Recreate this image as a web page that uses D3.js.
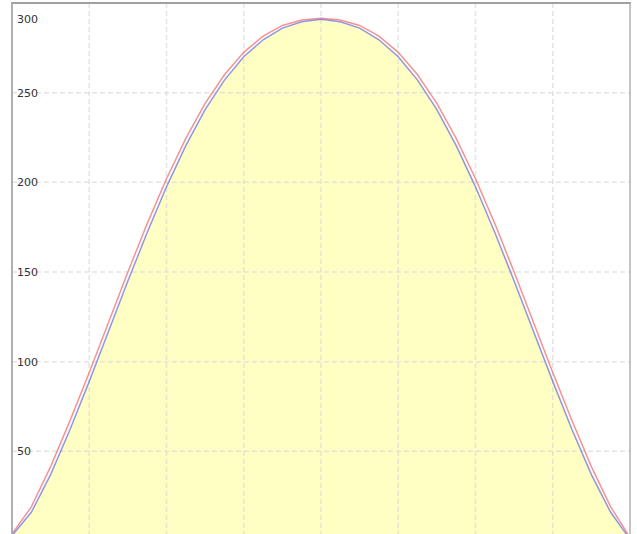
<!DOCTYPE html>
<html>
<head>
<meta charset="utf-8">
<script src="https://cdn.jsdelivr.net/npm/d3@7"></script>
<style>
  body { margin: 0; background: #fff; }
  .tick text { font-family: "DejaVu Sans", sans-serif; font-size: 11px; fill: #333; }
</style>
</head>
<body>
<div id="chart"></div>
<script>
// posiciones en x (unidades de la rejilla)
const xValues = [0, 0.25, 0.5, 0.75, 1, 1.25, 1.5, 1.75, 2, 2.25, 2.5, 2.75, 3, 3.25, 3.5, 3.75,
  4, 4.25, 4.5, 4.75, 5, 5.25, 5.5, 5.75, 6, 6.25, 6.5, 6.75, 7, 7.25, 7.5, 7.75, 8];

// serie azul (con relleno amarillo)
const blueValues = [3, 16, 37, 62, 89, 117, 145, 172, 197.5, 220.5, 240.5, 257, 270, 279.5, 286, 289.5,
  291, 289.5, 286, 279.5, 270, 257, 240.5, 220.5, 197.5, 172, 145, 117, 89, 62, 37, 16, 1];

// serie roja (un poco por fuera de la azul)
const redValues = [4, 19, 41.5, 67, 94, 122, 150, 177, 202, 224.5, 244, 260, 272.5, 281.5, 287.5, 290.5,
  291.5, 290.5, 287.5, 281.5, 272.5, 260, 244, 224.5, 202, 177, 150, 122, 94, 67, 41.5, 19, 2];

const yTicks = [50, 100, 150, 200, 250, 300];
const xGrid = [1, 2, 3, 4, 5, 6, 7];

const width = 637;
const height = 534;
const marginLeft = 12, marginRight = 630, marginTop = 3, plotBottom = 541;

const svg = d3.select('#chart')
  .append('svg')
  .attr('width', width)
  .attr('height', height);

const x = d3.scaleLinear().domain([0, 8]).range([marginLeft, marginRight]);
const y = d3.scaleLinear().domain([0, 300]).range([plotBottom, marginTop]);

const blue = xValues.map((d, i) => ({ x: d, v: blueValues[i] }));
const red = xValues.map((d, i) => ({ x: d, v: redValues[i] }));

// relleno bajo la serie azul
const area = d3.area()
  .x(d => x(d.x))
  .y0(y(0))
  .y1(d => y(d.v));

svg.append('path')
  .attr('d', area(blue))
  .attr('fill', '#ffffc4');

// rejilla
svg.append('g')
  .selectAll('line')
  .data(yTicks)
  .enter()
  .append('line')
  .attr('x1', marginLeft).attr('x2', marginRight)
  .attr('y1', d => y(d)).attr('y2', d => y(d))
  .attr('stroke', '#d8d8d8')
  .attr('stroke-opacity', 0.7)
  .attr('stroke-width', 1.5)
  .attr('stroke-dasharray', '5,3');

svg.append('g')
  .selectAll('line')
  .data(xGrid)
  .enter()
  .append('line')
  .attr('x1', d => x(d)).attr('x2', d => x(d))
  .attr('y1', marginTop).attr('y2', height)
  .attr('stroke', '#d8d8d8')
  .attr('stroke-opacity', 0.7)
  .attr('stroke-width', 1.5)
  .attr('stroke-dasharray', '5,3');

const line = d3.line()
  .x(d => x(d.x))
  .y(d => y(d.v));

svg.append('path')
  .attr('d', line(red))
  .attr('fill', 'none')
  .attr('stroke', '#f07878')
  .attr('stroke-opacity', 0.8)
  .attr('stroke-width', 1.5);

svg.append('path')
  .attr('d', line(blue))
  .attr('fill', 'none')
  .attr('stroke', '#7070e0')
  .attr('stroke-opacity', 0.75)
  .attr('stroke-width', 1.5);

// marco
svg.append('line')
  .attr('x1', marginLeft - 1).attr('x2', marginRight + 1).attr('y1', marginTop).attr('y2', marginTop)
  .attr('stroke', '#a0a0a0').attr('stroke-width', 2);
svg.append('line')
  .attr('x1', marginLeft).attr('x2', marginLeft).attr('y1', marginTop).attr('y2', height)
  .attr('stroke', '#b0b0b0').attr('stroke-width', 2);
svg.append('line')
  .attr('x1', marginRight).attr('x2', marginRight).attr('y1', marginTop).attr('y2', height)
  .attr('stroke', '#b0b0b0').attr('stroke-width', 1.5);

// eje y con etiquetas dentro del area
const axisY = d3.axisRight(y).tickValues(yTicks).tickSize(0).tickPadding(5);
const gy = svg.append('g')
  .attr('transform', `translate(${marginLeft}, 0)`)
  .call(axisY);
gy.select('.domain').remove();
// la etiqueta superior se baja para que no quede cortada
gy.selectAll('.tick')
  .filter(d => d === 300)
  .select('text')
  .attr('dy', '1.8em');
</script>
</body>
</html>
